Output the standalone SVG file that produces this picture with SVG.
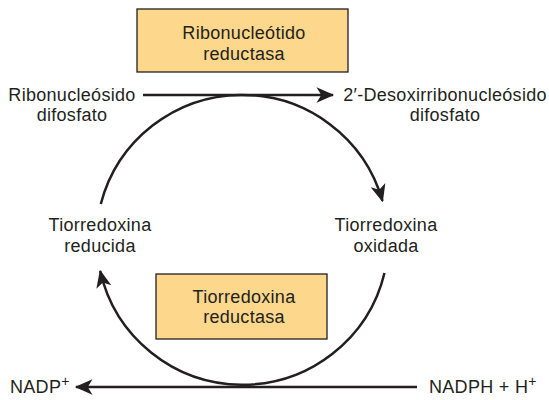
<svg xmlns="http://www.w3.org/2000/svg" width="549" height="400" viewBox="0 0 549 400">
<style>
text{font-family:"Liberation Sans",Arial,sans-serif;font-size:18px;letter-spacing:0.3px;fill:#231f20;text-anchor:middle}
.box{fill:#fdd78b;stroke:#231f20;stroke-width:1.3}
.ln{fill:none;stroke:#231f20;stroke-width:2.5}
.sup{font-size:14px}
</style>
<defs>
<marker id="ah" markerUnits="userSpaceOnUse" markerWidth="20" markerHeight="20" viewBox="-15 -8 17 16" refX="0" refY="0" orient="auto">
<path d="M1,0 L-14,-6.5 L-10,0 L-14,6.5 Z" fill="#231f20"/>
</marker>
</defs>
<g id="connectors">
<path class="ln" d="M143,95 H333" marker-end="url(#ah)"/>
<path class="ln" d="M417,387 H76" marker-end="url(#ah)"/>
<path class="ln" d="M100.8,204 A146,146 0 0 1 382.5,201" marker-end="url(#ah)"/>
<path class="ln" d="M384.5,273 A146,146 0 0 1 100.2,271" marker-end="url(#ah)"/>
</g>
<g id="ribonucleotido-reductasa">
<rect class="box" x="137" y="9" width="211" height="63"/>
<text x="244" y="39">Ribonucleótido</text>
<text x="244" y="60">reductasa</text>
</g>
<g id="ribonucleosido-difosfato">
<text x="72" y="101">Ribonucleósido</text>
<text x="72" y="121">difosfato</text>
</g>
<g id="desoxirribonucleosido-difosfato">
<text x="445" y="101">2′-Desoxirribonucleósido</text>
<text x="445" y="121">difosfato</text>
</g>
<g id="tiorredoxina-reducida">
<text x="100" y="231">Tiorredoxina</text>
<text x="100" y="252">reducida</text>
</g>
<g id="tiorredoxina-oxidada">
<text x="386" y="231">Tiorredoxina</text>
<text x="386" y="252">oxidada</text>
</g>
<g id="tiorredoxina-reductasa">
<rect class="box" x="156" y="274" width="171" height="65"/>
<text x="244" y="303">Tiorredoxina</text>
<text x="244" y="323">reductasa</text>
</g>
<g id="nadp">
<text x="10" y="393" style="text-anchor:start">NADP<tspan class="sup" dy="-7">+</tspan></text>
</g>
<g id="nadph">
<text x="429" y="393" style="text-anchor:start">NADPH + H<tspan class="sup" dy="-7">+</tspan></text>
</g>
</svg>
